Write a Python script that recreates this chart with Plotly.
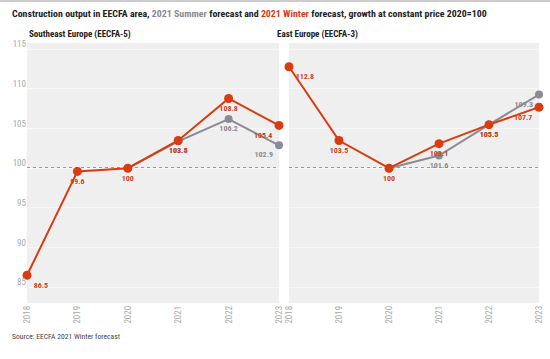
import plotly.graph_objects as go

years = [2018, 2019, 2020, 2021, 2022, 2023]
se_winter = [86.5, 99.6, 100, 103.5, 108.8, 105.4]
se_summer_years = [2020, 2021, 2022, 2023]
se_summer = [100, 103.4, 106.2, 102.9]
ee_winter = [112.8, 103.5, 100, 103.1, 105.5, 107.7]
ee_summer_years = [2020, 2021, 2022, 2023]
ee_summer = [100, 101.6, 105.5, 109.3]
y_ticks = [85, 90, 95, 100, 105, 110, 115]

RED = "#d83c10"
RED_T = "#c9431f"
GRAY = "#8b8b95"
GRAY_T = "#8a8a92"
FONT = "Liberation Sans Narrow, Roboto Condensed, Roboto, sans-serif"

def positions(n):
    pos = []
    for i in range(n):
        if i == 0:
            pos.append("bottom right")
        elif i == n - 1:
            pos.append("bottom left")
        else:
            pos.append("bottom center")
    return pos

def labels(vals, hide_first=False):
    out = [str(v) for v in vals]
    if hide_first:
        out[0] = ""
    return out

fig = go.Figure()

panels = [
    ("x", "y", se_winter, se_summer_years, se_summer),
    ("x2", "y2", ee_winter, ee_summer_years, ee_summer),
]
for xa, ya, win, syears, summ in panels:
    spos = positions(len(syears))
    spos[0] = "bottom center"
    fig.add_trace(go.Scatter(
        x=syears, y=summ, xaxis=xa, yaxis=ya, mode="lines+markers+text",
        line=dict(color=GRAY, width=2), marker=dict(color=GRAY, size=8),
        text=labels(summ, hide_first=True), textposition=spos,
        textfont=dict(family=FONT, size=8, color=GRAY_T, weight="bold"),
        cliponaxis=False, showlegend=False, hoverinfo="skip"))
    fig.add_trace(go.Scatter(
        x=years, y=win, xaxis=xa, yaxis=ya, mode="lines+markers+text",
        line=dict(color=RED, width=2), marker=dict(color=RED, size=9),
        text=labels(win), textposition=positions(len(win)),
        textfont=dict(family=FONT, size=8, color=RED_T, weight="bold"),
        cliponaxis=False, showlegend=False, hoverinfo="skip"))

yb, yt = (359 - 303) / 359, (359 - 43) / 359
axis_common = dict(range=[2018, 2023], tickvals=years, ticktext=[str(y) for y in years],
                   tickangle=-90, showgrid=False, zeroline=False, showline=False,
                   automargin=False,
                   tickfont=dict(family=FONT, size=9, color="#a8a8a8"), ticks="")
yaxis_common = dict(range=[83.0, 115.8], tickvals=y_ticks, showgrid=True,
                    gridcolor="#f8f8f8", gridwidth=1, zeroline=False, showline=False,
                    automargin=False, ticks="")

fig.update_layout(
    width=550, height=359,
    margin=dict(l=0, r=0, t=0, b=0, autoexpand=False),
    paper_bgcolor="white", plot_bgcolor="#efefef",
    font=dict(family=FONT),
    xaxis=dict(domain=[27 / 550, 279 / 550], anchor="y", **axis_common),
    xaxis2=dict(domain=[289 / 550, 539 / 550], anchor="y2", **axis_common),
    yaxis=dict(domain=[yb, yt], anchor="x", showticklabels=True,
               tickfont=dict(family=FONT, size=9, color="#a8a8a8"),
               ticklabelshift=-5, **yaxis_common),
    yaxis2=dict(domain=[yb, yt], anchor="x2", showticklabels=False, **yaxis_common),
    shapes=[
        dict(type="line", xref="x domain", yref="y", x0=0, x1=1, y0=100, y1=100,
             line=dict(color="#444", width=1.5, dash="dot"), layer="below"),
        dict(type="line", xref="x2 domain", yref="y2", x0=0, x1=1, y0=100, y1=100,
             line=dict(color="#444", width=1.5, dash="dot"), layer="below"),
        dict(type="line", xref="paper", yref="paper", x0=0, x1=1, y0=1 - 1 / 359, y1=1 - 1 / 359,
             line=dict(color="#cccccc", width=2)),
    ],
    annotations=[
        dict(xref="paper", yref="paper", x=10 / 550, y=1 - 14 / 359, xanchor="left", yanchor="middle",
             showarrow=False,
             text="<b>Construction output in EECFA area, <span style='color:#8a8a92'>2021 Summer</span> forecast and "
                  "<span style='color:#d83c10'>2021 Winter</span> forecast, growth at constant price 2020=100</b>",
             font=dict(family=FONT, size=9.9, color="#222")),
        dict(xref="paper", yref="paper", x=27 / 550, y=1 - 34 / 359, xanchor="left", yanchor="middle",
             showarrow=False, text="<b>Southeast Europe (EECFA-5)</b>",
             font=dict(family=FONT, size=9, color="#222")),
        dict(xref="paper", yref="paper", x=275 / 550, y=1 - 34 / 359, xanchor="left", yanchor="middle",
             showarrow=False, text="<b>East Europe (EECFA-3)</b>",
             font=dict(family=FONT, size=9, color="#222")),
        dict(xref="paper", yref="paper", x=10 / 550, y=1 - 336 / 359, xanchor="left", yanchor="middle",
             showarrow=False, text="Source: EECFA 2021 Winter forecast",
             font=dict(family=FONT, size=7.6, color="#444")),
    ],
)

fig.write_html("out.html", config={"displayModeBar": False},
               post_script="document.body.style.margin='0';document.body.style.overflow='hidden';")
